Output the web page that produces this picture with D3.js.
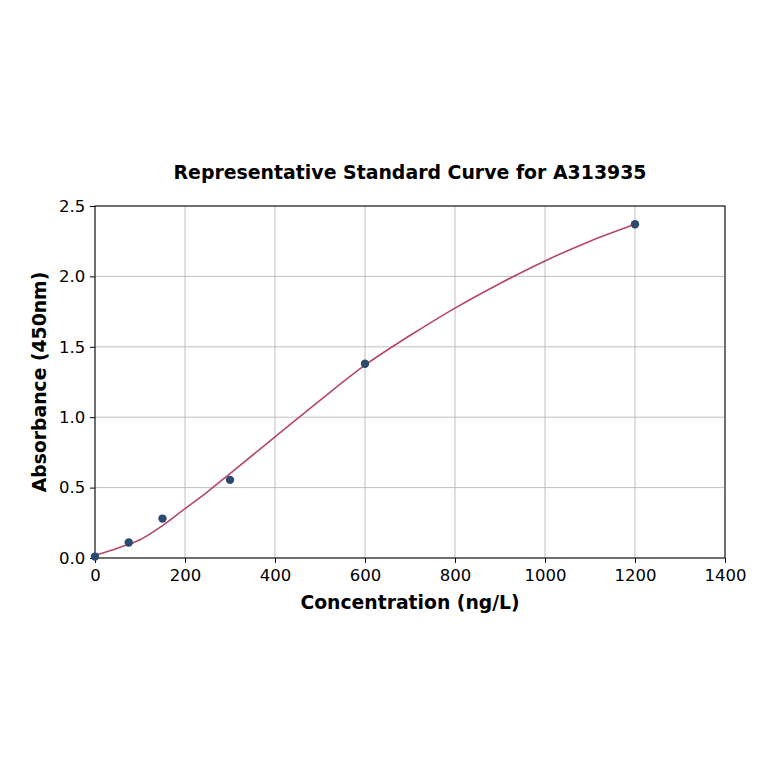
<!DOCTYPE html>
<html>
<head>
<meta charset="utf-8">
<script src="https://cdn.jsdelivr.net/npm/d3@7"></script>
<style>
  body { margin: 0; background: #fff; }
  svg { font-family: "DejaVu Sans", sans-serif; }
</style>
</head>
<body>
<svg id="chart" width="764" height="764"></svg>
<script>
// standards (measured points)
const concentrations = [0, 75, 150, 300, 600, 1200];
const absorbances = [0.01, 0.11, 0.28, 0.555, 1.38, 2.37];

// fitted curve
const curveX = [0, 50, 100, 150, 200, 250, 300, 400, 500, 600, 700, 800, 900, 1000, 1100, 1200];
const curveY = [0.02, 0.07, 0.13, 0.23, 0.35, 0.47, 0.60, 0.86, 1.12, 1.37, 1.58, 1.775, 1.95, 2.11, 2.25, 2.37];

const xTicks = [0, 200, 400, 600, 800, 1000, 1200, 1400];
const yTicks = [0.0, 0.5, 1.0, 1.5, 2.0, 2.5];

const margin = { top: 206, right: 39, bottom: 206, left: 95 },
  width = 764,
  height = 764,
  innerWidth = width - margin.left - margin.right,
  innerHeight = height - margin.top - margin.bottom;

const svg = d3.select('#chart');

const x_scale = d3.scaleLinear().domain([0, 1400]).range([margin.left, margin.left + innerWidth]);
const y_scale = d3.scaleLinear().domain([0, 2.5]).range([margin.top + innerHeight, margin.top]);

// grid lines
svg.append('g').selectAll('line').data(xTicks).join('line')
  .attr('x1', d => x_scale(d)).attr('x2', d => x_scale(d))
  .attr('y1', margin.top).attr('y2', margin.top + innerHeight)
  .attr('stroke', '#b0b0b0').attr('stroke-width', 0.8);
svg.append('g').selectAll('line').data(yTicks).join('line')
  .attr('x1', margin.left).attr('x2', margin.left + innerWidth)
  .attr('y1', d => y_scale(d)).attr('y2', d => y_scale(d))
  .attr('stroke', '#b0b0b0').attr('stroke-width', 0.8);

// axes
const xAxis = svg.append('g').attr('transform', `translate(0,${margin.top + innerHeight})`)
  .call(d3.axisBottom(x_scale).tickValues(xTicks).tickFormat(d3.format('d')).tickSize(5).tickSizeOuter(0));
const yAxis = svg.append('g').attr('transform', `translate(${margin.left},0)`)
  .call(d3.axisLeft(y_scale).tickValues(yTicks).tickFormat(d3.format('.1f')).tickSize(5).tickSizeOuter(0));
[xAxis, yAxis].forEach(a => {
  a.select('.domain').remove();
  a.selectAll('text').attr('font-family', '"DejaVu Sans", sans-serif').attr('font-size', 16.5).attr('fill', '#000');
  a.selectAll('line').attr('stroke', '#000');
});
xAxis.selectAll('text').attr('dy', '0.9em');
yAxis.selectAll('text').attr('dx', '-0.1em');

// frame
svg.append('rect')
  .attr('x', margin.left).attr('y', margin.top)
  .attr('width', innerWidth).attr('height', innerHeight)
  .attr('fill', 'none').attr('stroke', '#000').attr('stroke-width', 1);

// fitted curve
const curveData = curveX.map((c, i) => ({ c: c, a: curveY[i] }));
const lineGenerator = d3.line()
  .x(d => x_scale(d.c))
  .y(d => y_scale(d.a))
  .curve(d3.curveCatmullRom.alpha(0.5));
svg.append('path')
  .attr('d', lineGenerator(curveData))
  .attr('fill', 'none')
  .attr('stroke', '#b5476b')
  .attr('stroke-width', 1.6);

// points
const pointData = concentrations.map((c, i) => ({ c: c, a: absorbances[i] }));
svg.append('g').selectAll('circle').data(pointData).join('circle')
  .attr('cx', d => x_scale(d.c))
  .attr('cy', d => y_scale(d.a))
  .attr('r', 4.2)
  .attr('fill', '#2b4a6f');

// labels
svg.append('text')
  .attr('x', margin.left + innerWidth / 2).attr('y', 179)
  .attr('text-anchor', 'middle').attr('font-size', 18.9).attr('font-weight', 'bold')
  .text('Representative Standard Curve for A313935');
svg.append('text')
  .attr('x', margin.left + innerWidth / 2).attr('y', 609)
  .attr('text-anchor', 'middle').attr('font-size', 18.8).attr('font-weight', 'bold')
  .text('Concentration (ng/L)');
svg.append('text')
  .attr('transform', `translate(46,${margin.top + innerHeight / 2}) rotate(-90)`)
  .attr('text-anchor', 'middle').attr('font-size', 18.8).attr('font-weight', 'bold')
  .text('Absorbance (450nm)');
</script>
</body>
</html>
